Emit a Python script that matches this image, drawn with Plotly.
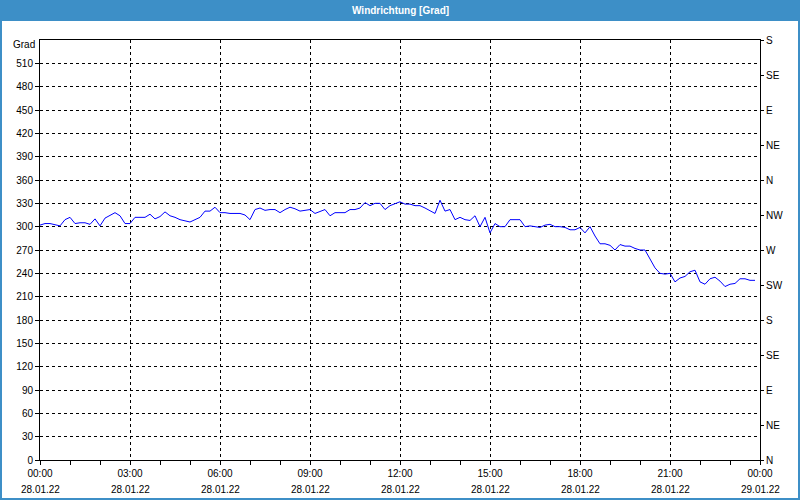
import plotly.graph_objects as go
import pandas as pd

# ---- data (10-minute wind direction readings, degrees) ----
start_time = "2022-01-28 00:00"
wind_dir = [
    302, 304, 304, 302, 301, 309, 312, 304, 305, 305, 303, 310, 301, 311, 315, 318, 314, 304,
    304, 312, 312, 312, 316, 310, 313, 319, 314, 312, 309, 307, 306, 309, 312, 320, 320, 325,
    318, 318, 317, 317, 317, 315, 309, 322, 324, 321, 322, 322, 318, 322, 325, 323, 320, 321,
    322, 317, 320, 322, 314, 318, 318, 318, 322, 322, 324, 331, 327, 330, 330, 322, 327, 329,
    332, 329, 329, 327, 327, 324, 321, 317, 334, 320, 322, 309, 312, 309, 308, 314, 300, 312,
    292, 304, 300, 300, 309, 309, 309, 300, 301, 300, 299, 302, 303, 300, 300, 299, 296, 296,
    299, 292, 300, 288, 278, 278, 276, 270, 277, 275, 275, 272, 270, 270, 259, 247, 240, 239,
    240, 229, 234, 236, 242, 244, 229, 226, 233, 235, 230, 223, 226, 227, 233, 233, 231, 231,
]
times = pd.date_range(start_time, periods=len(wind_dir), freq="10min")

x_tick_vals = pd.date_range("2022-01-28 00:00", "2022-01-29 00:00", freq="3h")
x_tick_time = ["00:00", "03:00", "06:00", "09:00", "12:00", "15:00", "18:00", "21:00", "00:00"]
x_tick_date = ["28.01.22", "28.01.22", "28.01.22", "28.01.22", "28.01.22", "28.01.22",
               "28.01.22", "28.01.22", "29.01.22"]
y_tick_vals = list(range(0, 511, 30))
compass_vals = list(range(0, 541, 45))
compass_text = ["N", "NE", "E", "SE", "S", "SW", "W", "NW", "N", "NE", "E", "SE", "S"]

title_text = "Windrichtung [Grad]"
unit_text = "Grad"

FONT = "Liberation Sans"
W, H = 800, 500
ML, MR, MT, MB = 40, 40, 40, 40
PW, PH = W - ML - MR, H - MT - MB


def px_x(px):
    return (px - ML) / PW


def px_y(py):
    return (H - MB - py) / PH


fig = go.Figure()
fig.add_trace(go.Scatter(x=times, y=wind_dir, mode="lines",
                         line=dict(color="#0000ff", width=1), showlegend=False,
                         hoverinfo="skip"))
# invisible trace for the right axis
fig.add_trace(go.Scatter(x=[times[0]], y=[0], yaxis="y2", mode="markers",
                         marker=dict(opacity=0), showlegend=False, hoverinfo="skip"))

annotations = [
    dict(text="<b>" + title_text + "</b>", xref="paper", yref="paper",
         x=0.5, y=px_y(10), xanchor="center", yanchor="middle",
         showarrow=False, font=dict(family=FONT, size=10, color="#ffffff")),
    dict(text=unit_text, xref="paper", yref="paper",
         x=px_x(37), y=px_y(45), xanchor="right", yanchor="middle",
         showarrow=False, font=dict(family=FONT, size=10, color="#000")),
]
for tv, dt in zip(x_tick_vals, x_tick_date):
    annotations.append(dict(text=dt, xref="x", yref="paper", x=tv, y=px_y(489),
                            xanchor="center", yanchor="middle", showarrow=False,
                            font=dict(family=FONT, size=10, color="#000")))

fig.update_layout(
    width=W, height=H,
    margin=dict(l=ML, r=MR, t=MT, b=MB, autoexpand=False),
    paper_bgcolor="#ffffff", plot_bgcolor="#ffffff",
    font=dict(family=FONT, size=10, color="#000000"),
    xaxis=dict(
        range=["2022-01-28 00:00", "2022-01-29 00:00"],
        tickmode="array", tickvals=list(x_tick_vals), ticktext=x_tick_time,
        ticks="outside", ticklen=4, tickcolor="#000",
        showgrid=True, gridcolor="#000", gridwidth=1, griddash="3px,3px",
        showline=True, linecolor="#000", linewidth=1, mirror=True,
        zeroline=False, tickangle=0, automargin=False, ticklabelstandoff=0,
        minor=dict(dtick=3600000, tick0="2022-01-28", ticks="outside", ticklen=4,
                   tickcolor="#000", showgrid=False),
        fixedrange=True,
    ),
    yaxis=dict(
        range=[0, 540], tickmode="array", tickvals=y_tick_vals,
        ticks="outside", ticklen=4, tickcolor="#000",
        showgrid=True, gridcolor="#000", gridwidth=1, griddash="3px,3px",
        showline=True, linecolor="#000", linewidth=1, mirror=False,
        zeroline=False, fixedrange=True, automargin=False,
    ),
    yaxis2=dict(
        range=[0, 540], overlaying="y", side="right",
        tickmode="array", tickvals=compass_vals, ticktext=compass_text,
        ticks="outside", ticklen=3, tickcolor="#000",
        showgrid=False, showline=True, linecolor="#000", linewidth=1,
        zeroline=False, fixedrange=True, automargin=False,
    ),
    shapes=[
        dict(type="rect", xref="paper", yref="paper",
             x0=px_x(0), x1=px_x(W), y0=px_y(21), y1=px_y(-2),
             fillcolor="#3d8fc7", line=dict(width=0), layer="above"),
        dict(type="rect", xref="paper", yref="paper",
             x0=px_x(1), x1=px_x(W - 1), y0=px_y(H - 1), y1=px_y(15),
             fillcolor="rgba(0,0,0,0)", line=dict(color="#3d8fc7", width=2)),
    ],
    annotations=annotations,
)

fig.write_html("out.html")
